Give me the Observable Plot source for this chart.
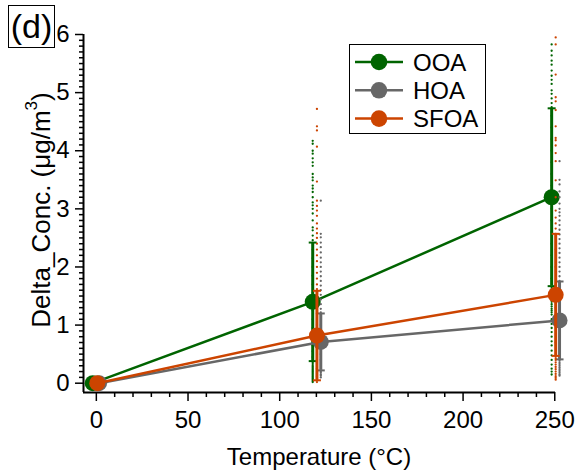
<!DOCTYPE html>
<html><head><meta charset="utf-8">
<script src="https://cdn.jsdelivr.net/npm/d3@7"></script>
<script src="https://cdn.jsdelivr.net/npm/@observablehq/plot@0.6"></script>
<style>
body{margin:0;background:#fff;}
#chart{position:relative;width:581px;height:472px;}
</style>
</head><body><div id="chart"></div>
<script>
// ---- data ----
const series = ["OOA", "HOA", "SFOA"];
const colors = ["#006400", "#676767", "#cc4400"];
// temperatures (slightly offset per series, as in the picture)
const ooaTemp  = [-2, 118, 248.3];
const hoaTemp  = [1.5, 122.4, 252.6];
const sfoaTemp = [0.5, 120.3, 250.5];
// means
const ooaMean  = [0, 1.40, 3.20];
const hoaMean  = [0, 0.71, 1.08];
const sfoaMean = [0, 0.82, 1.52];
// standard deviations (error bars)
const ooaSd  = [0, 1.02, 1.53];
const hoaSd  = [0, 0.49, 0.67];
const sfoaSd = [0, 0.77, 1.05];
// raw observations at ~120 °C
const ooaRaw120 = [4.17,4.12,4.0,3.95,3.87,3.8,3.74,3.6,3.54,3.49,3.4,3.35,3.29,3.2,3.11,3.06,3.0,2.92,2.8,2.68,2.63,2.54,2.46,2.3,2.15,2.0,1.85,1.7,1.55,1.25,1.1,0.95,0.85,0.75,0.65,0.55,0.45,0.38,0.36,0.33,0.3,0.28,0.26,0.24,0.22,0.2,0.18,0.16,0.14,0.12,0.1,0.08,0.06,0.04,0.02];
const hoaRaw120 = [3.14,2.57,2.51,2.42,2.34,2.25,2.16,2.08,2.0,1.92,1.84,1.76,1.68,1.6,1.52,1.44,1.36,1.28,1.22,1.0,0.9,0.5,0.4,0.2,0.18,0.15,0.13,0.1];
const sfoaRaw120 = [4.72,4.42,4.35,4.07,3.47,3.14,3.05,2.97,2.88,2.75,2.66,2.58,2.5,2.4,2.3,2.2,2.1,2.0,1.9,1.8,1.7,1.62,1.45,1.2,1.0,0.6,0.4,0.25,0.12,0.05,0.02];
// raw observations at ~250 °C
const ooaRaw250 = [5.83,5.72,5.64,5.55,5.48,5.38,5.29,5.22,5.15,5.04,4.98,4.9,4.82,4.75,4.6,4.4,4.2,4.0,3.8,3.6,3.4,3.0,2.8,2.6,2.4,2.2,2.0,1.8,1.64,1.6,1.56,1.52,1.48,1.44,1.4,1.36,1.32,1.28,1.25,1.22,1.18,1.1,1.02,0.95,0.88,0.8,0.72,0.65,0.56,0.48,0.4,0.32,0.25,0.2,0.15];
const hoaRaw250 = [3.82,3.5,3.42,3.3,3.2,3.09,3.0,2.94,2.88,2.8,2.72,2.64,2.56,2.48,2.4,2.32,2.24,2.16,2.08,2.0,1.92,1.84,1.76,1.6,1.4,1.2,1.0,0.8,0.6,0.42,0.39,0.36,0.33,0.3,0.27,0.24,0.21,0.18,0.15,0.13];
const sfoaRaw250 = [5.95,5.83,5.31,4.92,4.85,4.7,4.42,4.22,4.18,4.09,3.96,3.82,3.49,3.2,2.97,2.85,2.75,2.66,2.57,2.3,2.0,1.7,1.3,1.0,0.7,0.47,0.43,0.4,0.36,0.32,0.28,0.24,0.2,0.16,0.12,0.09,0.06];
// axes
const xTicks = [0, 50, 100, 150, 200, 250];
const yTicks = [0, 1, 2, 3, 4, 5, 6];
const xDomain = [-7, 250.4];
const yDomain = [-0.16, 6];
const xTitle = "Temperature (°C)";
const yTitle = "Delta_Conc. (μg/m";
const ySup = "3";
const panelLabel = "(d)";

// ---- tables ----
const temps = [ooaTemp, hoaTemp, sfoaTemp];
const means = [ooaMean, hoaMean, sfoaMean];
const sds = [ooaSd, hoaSd, sfoaSd];
const raws = [[ooaRaw120, ooaRaw250], [hoaRaw120, hoaRaw250], [sfoaRaw120, sfoaRaw250]];

const xMinor = d3.range(0, 251, 10).filter(v => v % 50 !== 0);
const yMinor = d3.range(0, 61, 1).filter(v => v % 10 !== 0).map(v => v / 10);

const capSymbol = {draw(ctx, size) { const w = Math.sqrt(size / Math.PI); ctx.moveTo(-w, 0); ctx.lineTo(w, 0); }};

const marks = [];
series.forEach((s, i) => {
  const rows = temps[i].map((t, j) => ({s, t, m: means[i][j], sd: sds[i][j]}));
  const bars = rows.filter(d => d.sd > 0);
  const raw = raws[i].flatMap((arr, k) => arr.map(v => ({t: temps[i][k + 1], v})));
  const c = colors[i];
  marks.push(
    Plot.dot(raw, {x: "t", y: "v", r: 1.15, fill: c, stroke: "none"}),
    Plot.line(rows, {x: "t", y: "m", stroke: c, strokeWidth: 2.5}),
    Plot.ruleX(bars, {x: "t", y1: d => d.m - d.sd, y2: d => d.m + d.sd, stroke: c, strokeWidth: 3}),
    Plot.dot(bars, {x: "t", y: d => d.m - d.sd, symbol: capSymbol, r: 4, stroke: c, strokeWidth: 2, fill: "none"}),
    Plot.dot(bars, {x: "t", y: d => d.m + d.sd, symbol: capSymbol, r: 4, stroke: c, strokeWidth: 2, fill: "none"}),
    Plot.dot(rows, {x: "t", y: "m", r: 8, fill: c, stroke: "none"})
  );
});

const chart = Plot.plot({
  width: 581, height: 472,
  marginLeft: 83, marginRight: 26, marginTop: 34, marginBottom: 80,
  x: {domain: xDomain},
  y: {domain: yDomain},
  style: {fontFamily: "Liberation Sans, Arial, sans-serif", fontSize: "24px", color: "black", background: "white", overflow: "visible"},
  marks: [
    Plot.axisX({ticks: xMinor, tickSize: 5, tickFormat: () => "", label: null, strokeWidth: 1.5}),
    Plot.axisX({ticks: xTicks, tickSize: 9, tickPadding: 9, tickFormat: d => String(d), fontSize: 24, label: null, strokeWidth: 1.5}),
    Plot.axisY({ticks: yMinor, tickSize: 4, tickFormat: () => "", label: null, strokeWidth: 1.5}),
    Plot.axisY({ticks: yTicks, tickSize: 8, tickPadding: 6, tickFormat: d => String(d), fontSize: 24, label: null, strokeWidth: 1.5}),
    Plot.ruleX([xDomain[0]], {strokeWidth: 2}),
    Plot.ruleY([yDomain[0]], {strokeWidth: 2}),
    ...marks
  ]
});

const svg = d3.select(chart);
// axis titles
svg.append("text").attr("x", 319).attr("y", 465).attr("text-anchor", "middle")
  .attr("font-size", 24).attr("fill", "black").text(xTitle);
const yt = svg.append("text").attr("transform", "translate(50,210) rotate(-90)")
  .attr("text-anchor", "middle").attr("font-size", 26).attr("fill", "black");
yt.append("tspan").text(yTitle);
yt.append("tspan").attr("dy", -13).attr("font-size", 17).text(ySup);
yt.append("tspan").attr("dy", 13).text(")");
// panel label
svg.append("rect").attr("x", 8.5).attr("y", 5.5).attr("width", 46).attr("height", 42)
  .attr("fill", "white").attr("stroke", "black").attr("stroke-width", 1);
svg.append("text").attr("x", 31.5).attr("y", 38).attr("text-anchor", "middle")
  .attr("font-size", 34).attr("fill", "black").text(panelLabel);
// legend
const lg = svg.append("g");
lg.append("rect").attr("x", 349.5).attr("y", 44.5).attr("width", 136).attr("height", 89)
  .attr("fill", "white").attr("stroke", "black").attr("stroke-width", 1);
series.forEach((s, i) => {
  const y = 62 + i * 28.3;
  lg.append("line").attr("x1", 355).attr("x2", 403).attr("y1", y).attr("y2", y)
    .attr("stroke", colors[i]).attr("stroke-width", 2.5);
  lg.append("circle").attr("cx", 379).attr("cy", y).attr("r", 8.3).attr("fill", colors[i]);
  lg.append("text").attr("x", 413).attr("y", y + 8.6).attr("text-anchor", "start")
    .attr("font-size", 24).attr("fill", "black").text(s);
});

document.getElementById("chart").append(chart);
</script>
</body></html>
